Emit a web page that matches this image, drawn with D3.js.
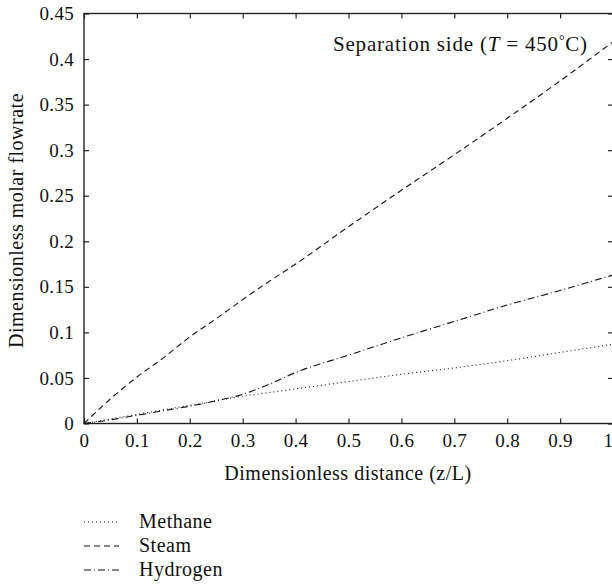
<!DOCTYPE html>
<html>
<head>
<meta charset="utf-8">
<script src="https://cdn.jsdelivr.net/npm/d3@7"></script>
<style>
  body { margin: 0; background: #fff; }
  svg { display: block; }
</style>
</head>
<body>
<div id="chart"></div>
<script>
// --- data ---
const distance = [0, 0.05, 0.1, 0.15, 0.2, 0.25, 0.3, 0.35, 0.4, 0.5, 0.6, 0.7, 0.8, 0.9, 1.0];
const methane  = [0, 0.005, 0.010, 0.015, 0.020, 0.025, 0.030, 0.034, 0.038, 0.046, 0.054, 0.061, 0.069, 0.078, 0.087];
const steam    = [0, 0.027, 0.051, 0.072, 0.095, 0.115, 0.136, 0.156, 0.175, 0.216, 0.256, 0.295, 0.335, 0.376, 0.419];
const hydrogen = [0, 0.004, 0.009, 0.014, 0.019, 0.025, 0.032, 0.043, 0.056, 0.075, 0.094, 0.112, 0.130, 0.146, 0.163];
const xTicks = [0, 0.1, 0.2, 0.3, 0.4, 0.5, 0.6, 0.7, 0.8, 0.9, 1];
const yTicks = [0, 0.05, 0.1, 0.15, 0.2, 0.25, 0.3, 0.35, 0.4, 0.45];

const seriesList = [
  { name: "Methane",  values: methane,  dash: "1,3" },
  { name: "Steam",    values: steam,    dash: "6,4" },
  { name: "Hydrogen", values: hydrogen, dash: "7,3,1,3" }
];

const FONT = "'Liberation Serif', 'DejaVu Serif', 'Times New Roman', serif";
const width = 612, height = 586;
const mLeft = 84, mRight = 613, mTop = 13.5, mBottom = 423.5;

const svg = d3.select("#chart").append("svg")
  .attr("width", width).attr("height", height)
  .style("font-family", FONT);

const x = d3.scaleLinear().domain([0, 1]).range([mLeft, mRight]);
const y = d3.scaleLinear().domain([0, 0.45]).range([mBottom, mTop]);

const fmt = d => d === 0 ? "0" : (d === 1 ? "1" : String(d));

// axes (ticks inward, on all four sides)
const axB = svg.append("g").attr("transform", `translate(0,${mBottom})`)
  .call(d3.axisBottom(x).tickValues(xTicks).tickFormat(fmt).tickSizeInner(-5).tickSizeOuter(0).tickPadding(10));
const axT = svg.append("g").attr("transform", `translate(0,${mTop})`)
  .call(d3.axisTop(x).tickValues(xTicks).tickFormat("").tickSizeInner(-5).tickSizeOuter(0));
const axL = svg.append("g").attr("transform", `translate(${mLeft},0)`)
  .call(d3.axisLeft(y).tickValues(yTicks).tickFormat(fmt).tickSizeInner(-5).tickSizeOuter(0).tickPadding(10));
const axR = svg.append("g").attr("transform", `translate(${mRight},0)`)
  .call(d3.axisRight(y).tickValues(yTicks).tickFormat("").tickSizeInner(-5).tickSizeOuter(0));

[axB, axT, axL, axR].forEach(a => {
  a.attr("font-family", null).attr("font-size", null);
  a.select(".domain").remove();
  a.selectAll(".tick line").attr("stroke", "#222").attr("stroke-width", 1.2);
  a.selectAll(".tick text").attr("fill", "#111")
    .style("font-size", "19px").style("letter-spacing", "0.3px").style("font-family", FONT);
});
// the last x label sits on the page edge; pull it in a little
axB.selectAll(".tick text").filter(d => d === 1).attr("dx", -5);

// frame
svg.append("rect")
  .attr("x", mLeft).attr("y", mTop)
  .attr("width", mRight - mLeft).attr("height", mBottom - mTop)
  .attr("fill", "none").attr("stroke", "#222").attr("stroke-width", 1.4);

// lines
const line = d3.line()
  .x((d, i) => x(distance[i]))
  .y(d => y(d))
  .curve(d3.curveMonotoneX);

svg.append("g").selectAll("path")
  .data(seriesList)
  .join("path")
  .attr("d", d => line(d.values))
  .attr("fill", "none")
  .attr("stroke", "#111")
  .attr("stroke-width", 1.1)
  .attr("stroke-dasharray", d => d.dash);

// annotation
const ann = svg.append("text")
  .attr("x", 333).attr("y", 51)
  .attr("fill", "#111")
  .style("font-size", "21px")
  .style("letter-spacing", "0.8px");
ann.append("tspan").text("Separation side (");
ann.append("tspan").style("font-style", "italic").text("T");
ann.append("tspan").text(" = 450");
ann.append("tspan").attr("dy", -6).style("font-size", "14px").text("°");
ann.append("tspan").attr("dy", 6).text("C)");

// axis titles
svg.append("text")
  .attr("x", 348).attr("y", 480)
  .attr("text-anchor", "middle")
  .attr("fill", "#111")
  .style("font-size", "20px")
  .style("letter-spacing", "0.5px")
  .text("Dimensionless distance (z/L)");

svg.append("text")
  .attr("transform", `translate(23,${(mTop + mBottom) / 2 + 2}) rotate(-90)`)
  .attr("text-anchor", "middle")
  .attr("fill", "#111")
  .style("font-size", "20px")
  .style("letter-spacing", "0.5px")
  .text("Dimensionless molar flowrate");

// legend
const legend = svg.append("g").selectAll("g")
  .data(seriesList)
  .join("g")
  .attr("transform", (d, i) => `translate(84,${522 + i * 24})`);

legend.append("line")
  .attr("x1", 0).attr("x2", 35).attr("y1", 0).attr("y2", 0)
  .attr("stroke", "#111").attr("stroke-width", 1.1)
  .attr("stroke-dasharray", d => d.dash);

legend.append("text")
  .attr("x", 55).attr("y", 6)
  .attr("fill", "#111")
  .style("font-size", "20px")
  .style("letter-spacing", "0.5px")
  .text(d => d.name);
</script>
</body>
</html>
